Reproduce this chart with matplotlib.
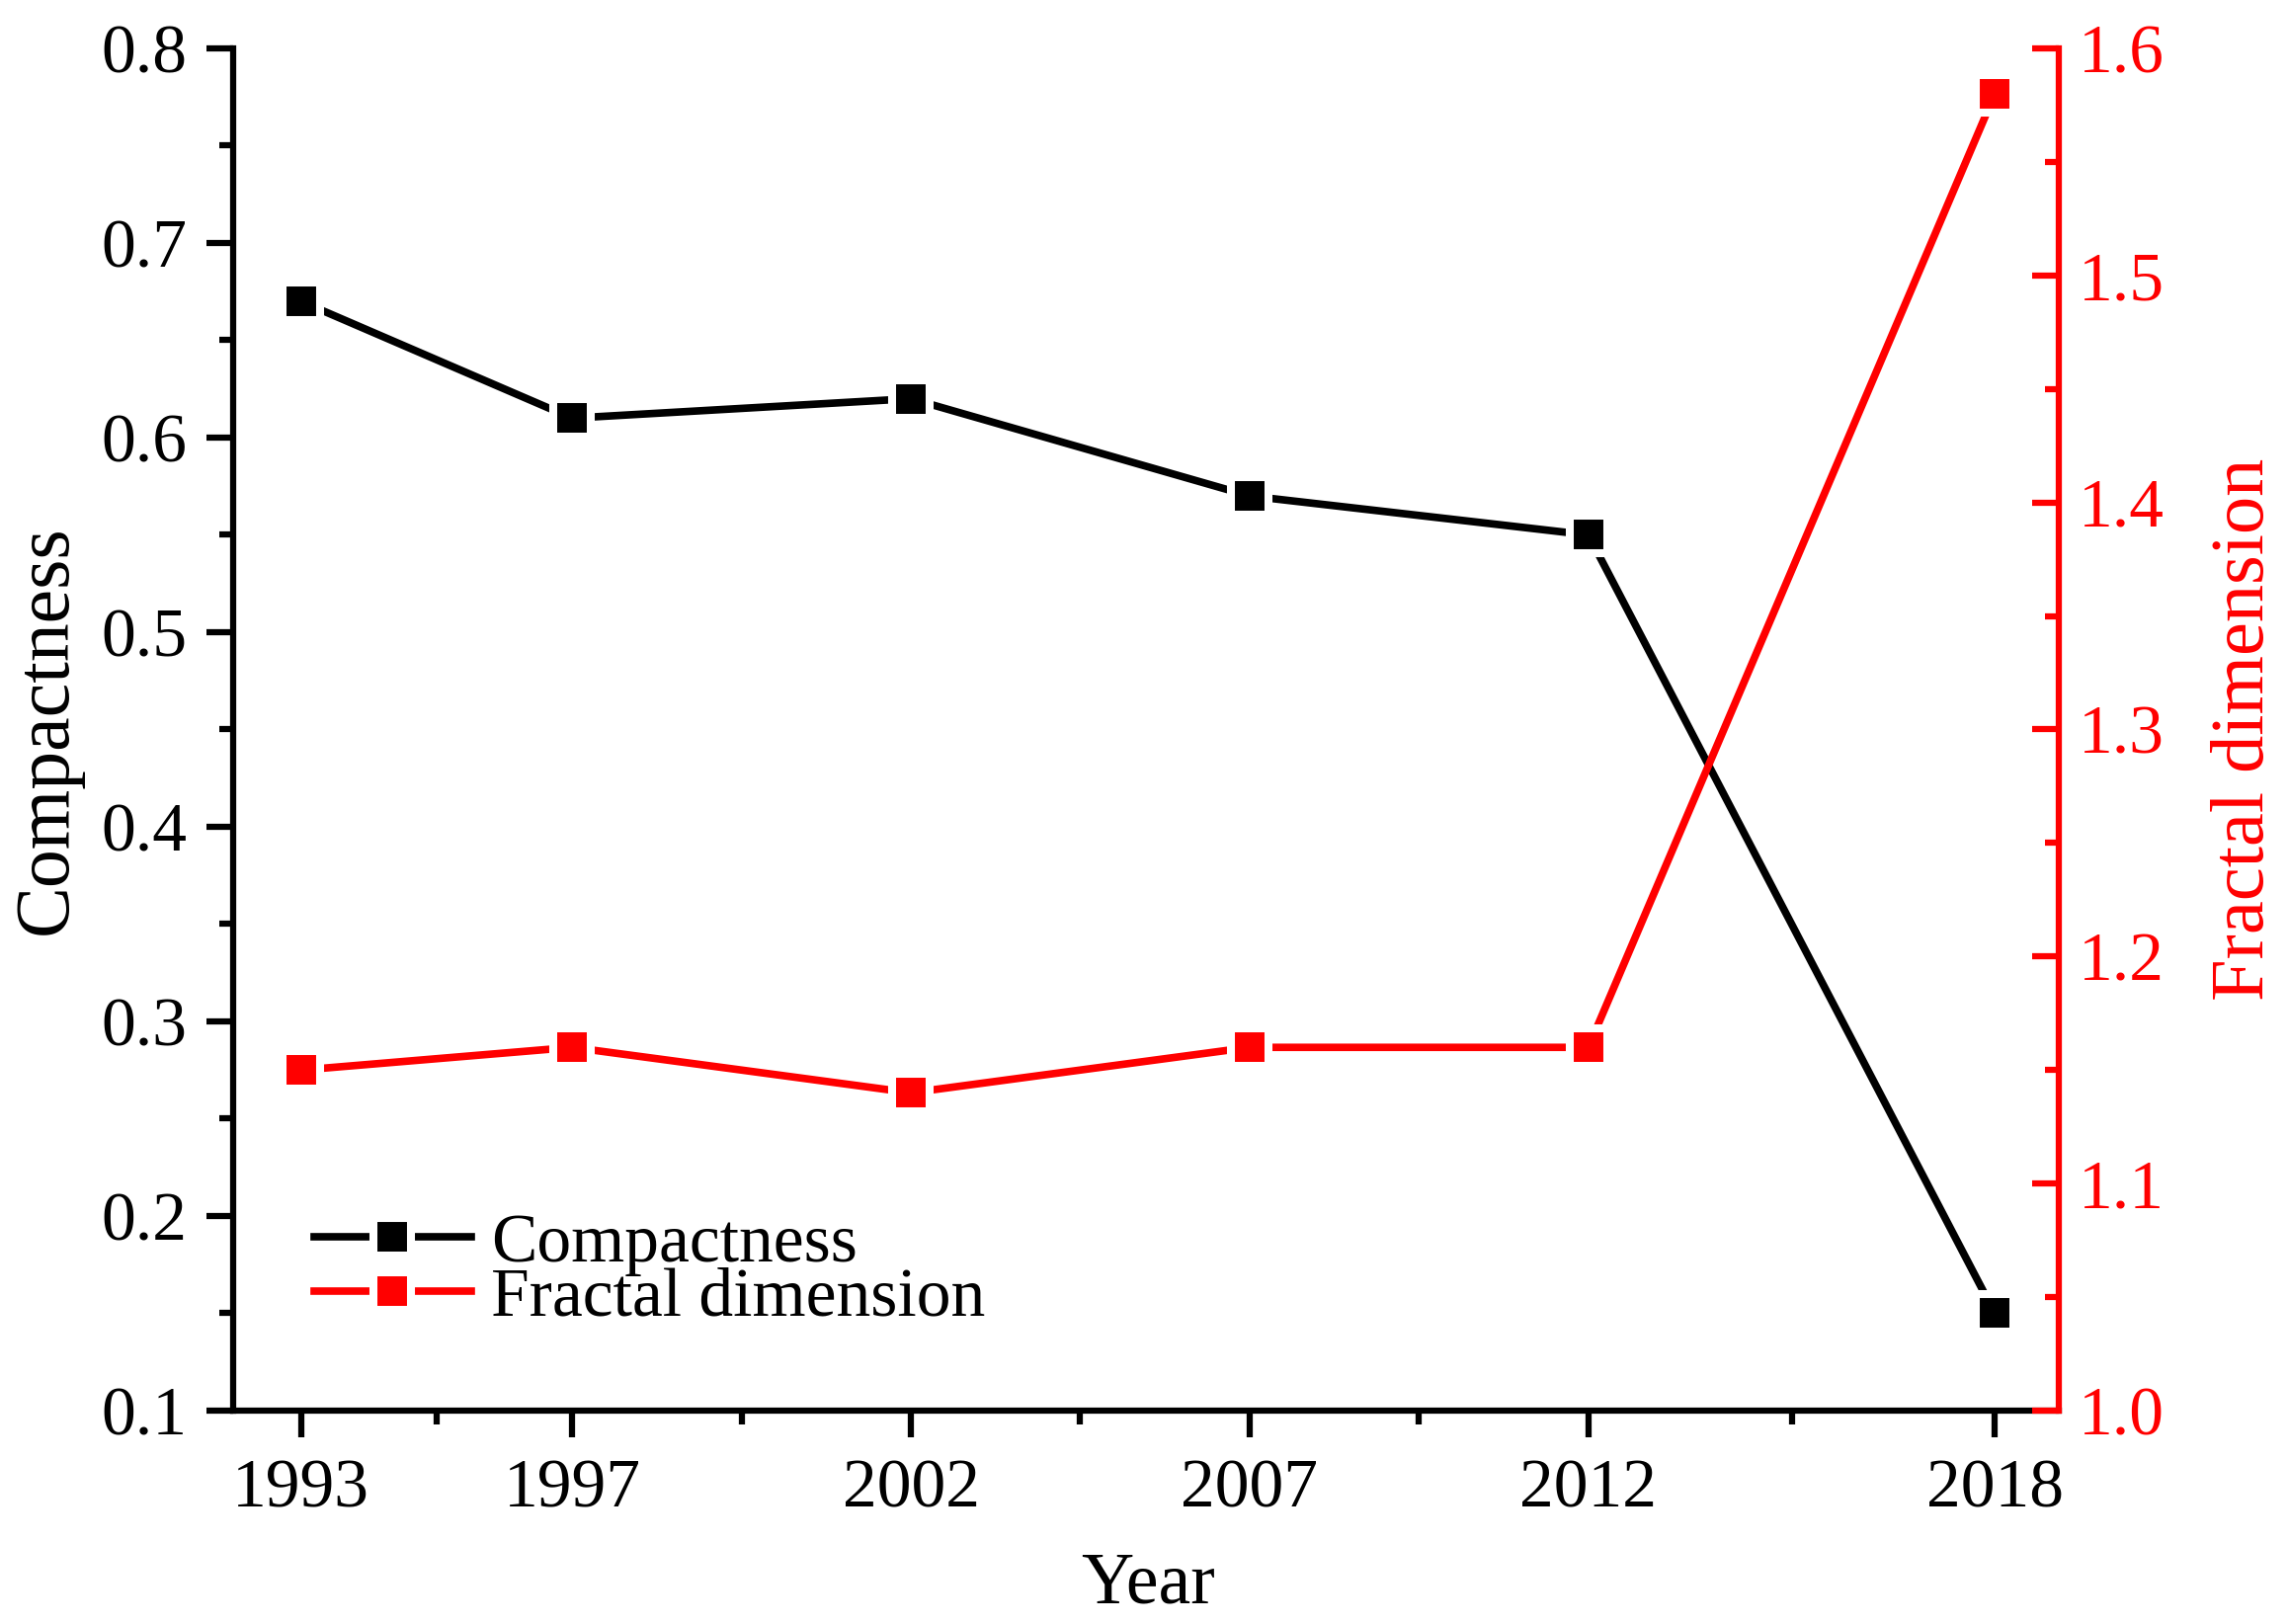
import matplotlib
matplotlib.use('Agg')
import matplotlib.pyplot as plt
from matplotlib.ticker import MultipleLocator, FixedLocator

plt.rcParams['font.family'] = ['Liberation Serif', 'DejaVu Serif']

# data
years = [1993, 1997, 2002, 2007, 2012, 2018]
compactness = [0.67, 0.61, 0.62, 0.57, 0.55, 0.15]
fractal_dim = [1.15, 1.16, 1.14, 1.16, 1.16, 1.58]
year_minor = [1995, 1999.5, 2004.5, 2009.5, 2015]

fig = plt.figure(figsize=(23.16, 16.44), dpi=100)
ax = fig.add_axes([0.102, 0.1314, 0.798, 0.8388])
ax2 = ax.twinx()

lw = 5.5
mk = dict(marker='s', markersize=27.5, markeredgecolor='white', markeredgewidth=5.8)

l1, = ax.plot(years, compactness, color='black', lw=lw, label='Compactness', **mk)
l2, = ax2.plot(years, fractal_dim, color='red', lw=lw, label='Fractal dimension', **mk)

ax.set_xlim(1992, 2018.95)
ax.set_ylim(0.1, 0.8)
ax2.set_ylim(1.0, 1.6)

ax.set_xticks(years)
ax.xaxis.set_minor_locator(FixedLocator(year_minor))
ax.yaxis.set_major_locator(MultipleLocator(0.1))
ax.yaxis.set_minor_locator(MultipleLocator(0.05))
ax2.yaxis.set_major_locator(MultipleLocator(0.1))
ax2.yaxis.set_minor_locator(MultipleLocator(0.05))
ax.yaxis.set_major_formatter(matplotlib.ticker.FormatStrFormatter('%.1f'))
ax2.yaxis.set_major_formatter(matplotlib.ticker.FormatStrFormatter('%.1f'))

spw = 4.5
for a in (ax, ax2):
    a.spines['top'].set_visible(False)
    for s in a.spines.values():
        s.set_linewidth(spw)
ax2.spines['left'].set_visible(False)
ax2.spines['bottom'].set_visible(False)
ax.spines['right'].set_visible(False)
ax2.spines['right'].set_color('red')

ax.tick_params(axis='both', which='major', direction='out', length=19.5, width=spw,
               labelsize=50, pad=14)
ax.tick_params(axis='both', which='minor', direction='out', length=10, width=spw)
ax.tick_params(axis='x', which='major', pad=16)
ax2.tick_params(axis='y', which='major', direction='in', length=19.5, width=spw,
                labelsize=50, pad=14, colors='red')
ax2.tick_params(axis='y', which='minor', direction='in', length=10, width=spw, colors='red')

ax.set_xlabel('Year', fontsize=53, va='center')
ax.xaxis.set_label_coords(0.501, -0.128)
ax.set_ylabel('Compactness', fontsize=56, va='center')
ax.yaxis.set_label_coords(-0.102, 0.5)
ax2.set_ylabel('Fractal dimension', fontsize=55, color='red', va='center')
ax2.yaxis.set_label_coords(1.102, 0.5)

leg = ax2.legend(handles=[l1, l2], loc='upper left', bbox_to_anchor=(0.044, 0.145),
                 frameon=False, fontsize=50, handlelength=2.3, handletextpad=0.28,
                 labelspacing=-0.13, borderpad=0, borderaxespad=0)

fig.savefig('out.png', dpi=100)
